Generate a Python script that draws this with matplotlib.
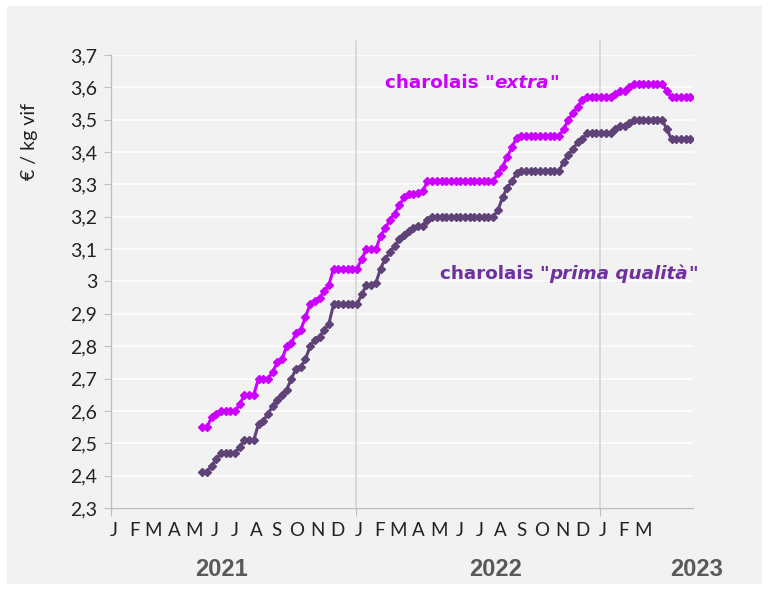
import pandas as pd
import numpy as np
import matplotlib
matplotlib.use("Agg")
import matplotlib.pyplot as plt
import matplotlib.dates as mdates
from matplotlib.patches import Rectangle
from matplotlib.ticker import FuncFormatter, MultipleLocator
from matplotlib.transforms import blended_transform_factory

# weekly quotations, from mid-May 2021 to mid-May 2023
weeks = pd.date_range("2021-05-17", periods=105, freq="7D")

extra = [2.55, 2.55, 2.58, 2.59, 2.60, 2.60, 2.60, 2.60, 2.62, 2.65,
         2.65, 2.65, 2.70, 2.70, 2.70, 2.72, 2.75, 2.76, 2.80, 2.81,
         2.84, 2.85, 2.89, 2.93, 2.94, 2.95, 2.97, 2.99, 3.04, 3.04,
         3.04, 3.04, 3.04, 3.04, 3.07, 3.10, 3.10, 3.10, 3.14, 3.165,
         3.19, 3.21, 3.235, 3.26, 3.27, 3.27, 3.275, 3.28, 3.31, 3.31,
         3.31, 3.31, 3.31, 3.31, 3.31, 3.31, 3.31, 3.31, 3.31, 3.31,
         3.31, 3.31, 3.31, 3.335, 3.355, 3.385, 3.415, 3.445, 3.45, 3.45,
         3.45, 3.45, 3.45, 3.45, 3.45, 3.45, 3.45, 3.47, 3.50, 3.52,
         3.54, 3.56, 3.57, 3.57, 3.57, 3.57, 3.57, 3.57, 3.58, 3.59,
         3.59, 3.60, 3.61, 3.61, 3.61, 3.61, 3.61, 3.61, 3.61, 3.59,
         3.57, 3.57, 3.57, 3.57, 3.57]

prima = [2.41, 2.41, 2.43, 2.45, 2.47, 2.47, 2.47, 2.47, 2.49, 2.51,
         2.51, 2.51, 2.56, 2.57, 2.59, 2.615, 2.635, 2.65, 2.665, 2.70,
         2.73, 2.735, 2.76, 2.80, 2.82, 2.83, 2.85, 2.87, 2.93, 2.93,
         2.93, 2.93, 2.93, 2.93, 2.96, 2.99, 2.99, 2.995, 3.04, 3.07,
         3.09, 3.11, 3.13, 3.145, 3.155, 3.165, 3.17, 3.17, 3.19, 3.20,
         3.20, 3.20, 3.20, 3.20, 3.20, 3.20, 3.20, 3.20, 3.20, 3.20,
         3.20, 3.20, 3.20, 3.22, 3.26, 3.29, 3.31, 3.335, 3.34, 3.34,
         3.34, 3.34, 3.34, 3.34, 3.34, 3.34, 3.34, 3.37, 3.39, 3.41,
         3.43, 3.44, 3.46, 3.46, 3.46, 3.46, 3.46, 3.46, 3.47, 3.48,
         3.48, 3.49, 3.50, 3.50, 3.50, 3.50, 3.50, 3.50, 3.50, 3.47,
         3.44, 3.44, 3.44, 3.44, 3.44]

month_letters = ["J", "F", "M", "A", "M", "J", "J", "A", "S", "O", "N", "D"]
years = [2021, 2022, 2023]
year_label_dates = ["2021-06-15", "2022-07-29", "2023-05-25"]

c_extra = "#CC00FF"
c_prima = "#5F4278"
c_prima_txt = "#7030A0"
bg = "#F2F2F2"
font = "Lato"

plt.rcParams['font.family'] = [font, 'DejaVu Sans']

fig = plt.figure(figsize=(7.68, 5.9), dpi=100)
fig.patch.set_facecolor("white")
fig.patches.append(Rectangle((7 / 768, 6 / 590), 755 / 768, 578 / 590,
                             transform=fig.transFigure, facecolor=bg,
                             edgecolor="none", zorder=-10))

ax = fig.add_axes([111 / 768, 1 - 508 / 590, 582 / 768, 453 / 590])
ax.set_facecolor(bg)

ax.plot(weeks, extra, color=c_extra, lw=2.2, marker="D", ms=4, zorder=3)
ax.plot(weeks, prima, color=c_prima, lw=2.2, marker="D", ms=4, zorder=3)

ax.set_ylim(2.3, 3.7)
ax.set_xlim(pd.Timestamp("2021-01-01"), pd.Timestamp("2023-05-19"))
ax.yaxis.set_major_locator(MultipleLocator(0.1))
ax.yaxis.set_major_formatter(FuncFormatter(lambda v, p: f"{v:.1f}".rstrip("0").rstrip(".").replace(".", ",")))
ax.grid(axis="y", color="white", lw=1.2)
ax.set_axisbelow(True)

for y in years[1:]:
    ax.axvline(pd.Timestamp(f"{y}-01-01"), color="#D4D4D4", lw=1.2, ymax=1.03,
               clip_on=False, zorder=1)

for s in ["top", "right"]:
    ax.spines[s].set_visible(False)
for s in ["left", "bottom"]:
    ax.spines[s].set_color("#BFBFBF")
    ax.spines[s].set_linewidth(1)

ax.set_xticks([pd.Timestamp(f"{y}-01-01") for y in years])
ax.set_xticklabels([])
ax.tick_params(axis="x", length=6, color="#BFBFBF", direction="out")
ax.tick_params(axis="y", length=5, color="#BFBFBF", labelsize=14,
               labelcolor="#222222", pad=5)

tr = blended_transform_factory(ax.transData, ax.transAxes)
for y in years:
    n = 12 if y < 2023 else 3
    for m in range(n):
        d = pd.Timestamp(year=y, month=m + 1, day=1) + pd.Timedelta(days=4)
        ax.text(mdates.date2num(d), -0.05, month_letters[m], transform=tr,
                ha="center", va="center", fontsize=13.5, color="#222222")

for y, d in zip(years, year_label_dates):
    ax.text(mdates.date2num(pd.Timestamp(d)), -0.135, str(y), transform=tr,
            ha="center", va="center", fontsize=17, fontweight="bold",
            color="#595959", family="Liberation Sans")

fig.text(30 / 768, 1 - 142 / 590, "€ / kg vif", rotation=90, ha="center",
         va="center", fontsize=14, color="#222222")

# series labels with italic parts
lab = dict(fontsize=13.2, fontweight="bold", family=["DejaVu Sans"], va="bottom")
t1 = ax.text(385 / 768, 1 - 92 / 590, 'charolais "', transform=fig.transFigure,
             color=c_extra, **lab)
t2 = ax.annotate("extra", xy=(1, 0), xycoords=t1, fontstyle="italic",
                 color=c_extra, **lab)
ax.annotate('"', xy=(1, 0), xycoords=t2, color=c_extra, **lab)

t3 = ax.text(440 / 768, 1 - 283 / 590, 'charolais "', transform=fig.transFigure,
             color=c_prima_txt, **lab)
t4 = ax.annotate("prima qualità", xy=(1, 0), xycoords=t3, fontstyle="italic",
                 color=c_prima_txt, **lab)
ax.annotate('"', xy=(1, 0), xycoords=t4, color=c_prima_txt, **lab)

fig.savefig("out.png", dpi=100, facecolor=fig.get_facecolor())
